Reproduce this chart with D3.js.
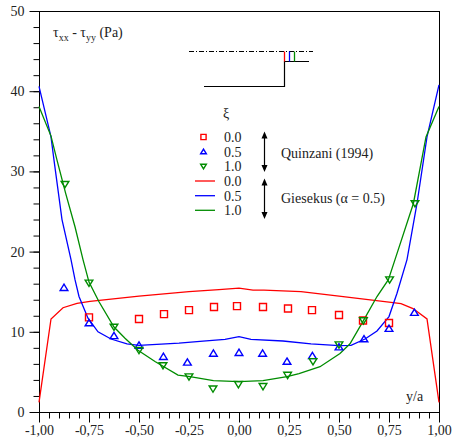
<!DOCTYPE html>
<html>
<head>
<meta charset="utf-8">
<script src="https://cdn.jsdelivr.net/npm/d3@7"></script>
<style>
	body { margin: 0; background: #fff; }
	svg text { font-family: "Liberation Serif", "Times New Roman", serif; fill: #222; }
</style>
</head>
<body>
<div id="chart"></div>
<script>
// measured points (Quinzani 1994), y/a and tau_xx - tau_yy in Pa
var expX00 = [-0.75, -0.5, -0.375, -0.25, -0.125, -0.01, 0.12, 0.245, 0.365, 0.5, 0.62, 0.75];
var expY00 = [11.8, 11.6, 12.2, 12.7, 13.1, 13.2, 13.1, 12.9, 12.7, 12.1, 11.4, 11.1];

var expX05 = [-0.875, -0.75, -0.625, -0.5, -0.378, -0.258, -0.128, 0, 0.118, 0.24, 0.367, 0.5, 0.625, 0.75, 0.877];
var expY05 = [15.5, 11.1, 9.5, 8.3, 6.9, 6.2, 7.3, 7.4, 7.3, 6.3, 7.0, 8.1, 9.1, 10.4, 12.4];

var expX10 = [-0.87, -0.75, -0.625, -0.5, -0.38, -0.25, -0.13, -0.003, 0.12, 0.243, 0.37, 0.5, 0.622, 0.753, 0.88];
var expY10 = [28.4, 16.1, 10.6, 7.7, 5.8, 4.4, 2.9, 3.45, 3.2, 4.6, 6.3, 8.4, 11.4, 16.5, 26.0];

// Giesekus model curves
var modX00 = [-1.0, -0.94, -0.88, -0.81, -0.745, -0.5, -0.25, -0.1, 0, 0.07, 0.125, 0.31, 0.5, 0.75, 0.81, 0.87, 0.94, 1.0];
var modY00 = [1.2, 11.6, 13.0, 13.55, 13.8, 14.45, 15.0, 15.25, 15.45, 15.2, 15.2, 15.0, 14.46, 13.7, 13.5, 12.9, 11.6, 1.2];

var modX05 = [-1.0, -0.94, -0.925, -0.885, -0.84, -0.82, -0.8, -0.755, -0.705, -0.64, -0.56, -0.5, -0.3, -0.18, -0.07, 0, 0.06, 0.22, 0.36, 0.5, 0.56, 0.63, 0.69, 0.75, 0.79, 0.84, 0.89, 0.94, 1.0];
var modY05 = [40.6, 34.3, 31.4, 24.0, 19.0, 16.5, 14.4, 11.7, 10.0, 9.1, 8.5, 8.3, 8.6, 8.85, 9.05, 9.4, 9.05, 8.85, 8.5, 8.27, 8.3, 9.1, 10.1, 11.9, 14.8, 19.0, 26.0, 34.3, 40.8];

var modX10 = [-1.0, -0.94, -0.91, -0.867, -0.82, -0.78, -0.75, -0.7, -0.625, -0.57, -0.505, -0.42, -0.305, -0.245, -0.128, 0, 0.12, 0.24, 0.3, 0.405, 0.505, 0.555, 0.62, 0.69, 0.747, 0.78, 0.872, 0.935, 1.0];
var modY10 = [38.1, 34.4, 31.4, 27.3, 23.1, 19.0, 16.2, 13.75, 10.6, 9.2, 7.7, 6.3, 4.6, 4.4, 3.9, 3.78, 3.9, 4.4, 4.8, 5.65, 7.3, 8.5, 11.3, 14.4, 16.5, 19.0, 26.0, 34.3, 38.1];

var xiLabels = ["0.0", "0.5", "1.0"];
var seriesColors = ["#ff0000", "#0000ff", "#008c00"];

function zip(xs, ys) {
	return xs.map(function (v, i) { return [v, ys[i]]; });
}

function drawChart() {
	var width = 452,
		height = 441,
		pl = 39, pr = 439, pt = 11, pb = 412;

	var x = d3.scaleLinear().domain([-1, 1]).range([pl, pr]);
	var y = d3.scaleLinear().domain([0, 50]).range([pb, pt]);

	var svg = d3.select("#chart")
		.append("svg")
		.attr("width", width)
		.attr("height", height);

	// frame
	svg.append("rect")
		.attr("x", pl + 0.5).attr("y", pt + 0.5)
		.attr("width", pr - pl).attr("height", pb - pt)
		.attr("fill", "none")
		.attr("stroke", "#000")
		.attr("stroke-width", 1);

	var fmtX = function (d) { return d3.format(".2f")(d).replace(".", ",").replace("\u2212", "-"); };

	// x axis: minor then major ticks
	var gx = svg.append("g").attr("transform", "translate(0," + (pb + 0.5) + ")");
	gx.call(d3.axisBottom(x).tickValues(d3.range(-20, 21).map(function (k) { return k * 0.05; })).tickSize(6).tickFormat(""));
	gx.select(".domain").remove();
	var gx2 = svg.append("g").attr("transform", "translate(0," + (pb + 0.5) + ")");
	gx2.call(d3.axisBottom(x).tickValues(d3.range(-4, 5).map(function (k) { return k * 0.25; })).tickSize(10).tickPadding(3).tickFormat(fmtX));
	gx2.select(".domain").remove();
	gx2.selectAll("text").attr("font-size", 14).attr("font-family", "Liberation Serif").attr("fill", "#222");

	// y axis: minor then major ticks
	var gy = svg.append("g").attr("transform", "translate(" + (pl + 0.5) + ",0)");
	gy.call(d3.axisLeft(y).tickValues(d3.range(0, 51, 2)).tickSize(6).tickFormat(""));
	gy.select(".domain").remove();
	var gy2 = svg.append("g").attr("transform", "translate(" + (pl + 0.5) + ",0)");
	gy2.call(d3.axisLeft(y).tickValues(d3.range(0, 51, 10)).tickSize(10).tickPadding(5).tickFormat(d3.format("d")));
	gy2.select(".domain").remove();
	gy2.selectAll("text").attr("font-size", 14).attr("font-family", "Liberation Serif").attr("fill", "#222");
	svg.selectAll(".tick line").attr("stroke", "#000");

	// model curves
	var line = d3.line()
		.x(function (d) { return x(d[0]); })
		.y(function (d) { return y(d[1]); });

	var curves = [zip(modX00, modY00), zip(modX05, modY05), zip(modX10, modY10)];
	curves.forEach(function (c, i) {
		svg.append("path")
			.datum(c)
			.attr("d", line)
			.attr("fill", "none")
			.attr("stroke", seriesColors[i])
			.attr("stroke-width", 1.3);
	});

	// marker shapes
	function markerPath(kind, s) {
		if (kind == 0)
			return "M" + (-s) + "," + (-s) + "H" + s + "V" + s + "H" + (-s) + "Z";
		if (kind == 1)
			return "M0," + (-s) + "L" + (s * 1.1) + "," + (s * 0.8) + "L" + (-s * 1.1) + "," + (s * 0.8) + "Z";
		return "M0," + s + "L" + (s * 1.1) + "," + (-s * 0.8) + "L" + (-s * 1.1) + "," + (-s * 0.8) + "Z";
	}

	var exps = [zip(expX00, expY00), zip(expX05, expY05), zip(expX10, expY10)];
	exps.forEach(function (pts, i) {
		svg.append("g")
			.selectAll("path")
			.data(pts)
			.join("path")
			.attr("transform", function (d) { return "translate(" + x(d[0]) + "," + y(d[1]) + ")"; })
			.attr("d", markerPath(i, 3.5))
			.attr("fill", "none")
			.attr("stroke", seriesColors[i])
			.attr("stroke-width", 1.4);
	});

	// title inside plot
	var title = svg.append("text").attr("x", 53).attr("y", 37).attr("font-size", 14);
	title.append("tspan").text("τ");
	title.append("tspan").attr("dy", 4).attr("font-size", 10).text("xx");
	title.append("tspan").attr("dy", -4).text(" - τ");
	title.append("tspan").attr("dy", 4).attr("font-size", 10).text("yy");
	title.append("tspan").attr("dy", -4).text(" (Pa)");

	svg.append("text")
		.attr("x", 406).attr("y", 401)
		.attr("font-size", 14)
		.text("y/a");

	// channel schematic
	svg.append("line")
		.attr("x1", 189).attr("x2", 313).attr("y1", 51.5).attr("y2", 51.5)
		.attr("stroke", "#000").attr("stroke-width", 1)
		.attr("stroke-dasharray", "5,2,1,2");
	svg.append("path")
		.attr("d", "M204,86.5H284.5V61.5H309")
		.attr("fill", "none").attr("stroke", "#000").attr("stroke-width", 1.2);
	[284.5, 289.5, 294.5].forEach(function (px, i) {
		svg.append("line")
			.attr("x1", px).attr("x2", px).attr("y1", 51.5).attr("y2", 61.5)
			.attr("stroke", seriesColors[i]).attr("stroke-width", 1.3);
	});

	// legend
	var lg = svg.append("g");
	lg.append("text").attr("x", 223).attr("y", 118).attr("font-size", 14).text("ξ");

	var rowY = [137, 151.7, 166.3, 181, 195.7, 210.3];
	for (var k = 0; k < 3; k++)
	{
		lg.append("path")
			.attr("transform", "translate(203.5," + rowY[k] + ")")
			.attr("d", markerPath(k, 2.6))
			.attr("fill", "none")
			.attr("stroke", seriesColors[k])
			.attr("stroke-width", 1.4);
		lg.append("line")
			.attr("x1", 195).attr("x2", 215)
			.attr("y1", rowY[k + 3]).attr("y2", rowY[k + 3])
			.attr("stroke", seriesColors[k]).attr("stroke-width", 1.3);
	}
	rowY.forEach(function (ry, i) {
		lg.append("text")
			.attr("x", 224).attr("y", ry + 5)
			.attr("font-size", 14)
			.text(xiLabels[i % 3]);
	});

	// double arrows
	function dblArrow(x0, y0, y1) {
		lg.append("line")
			.attr("x1", x0).attr("x2", x0).attr("y1", y0 + 4).attr("y2", y1 - 4)
			.attr("stroke", "#000").attr("stroke-width", 1.2);
		lg.append("path")
			.attr("d", "M" + x0 + "," + y0 + "l3,7h-6Z M" + x0 + "," + y1 + "l3,-7h-6Z")
			.attr("fill", "#000");
	}
	dblArrow(264.5, 131.5, 172);
	dblArrow(264.5, 178.5, 219);

	lg.append("text").attr("x", 281).attr("y", 158).attr("font-size", 14).text("Quinzani (1994)");
	lg.append("text").attr("x", 281).attr("y", 203).attr("font-size", 14).text("Giesekus (α = 0.5)");
}

drawChart();
</script>
</body>
</html>
